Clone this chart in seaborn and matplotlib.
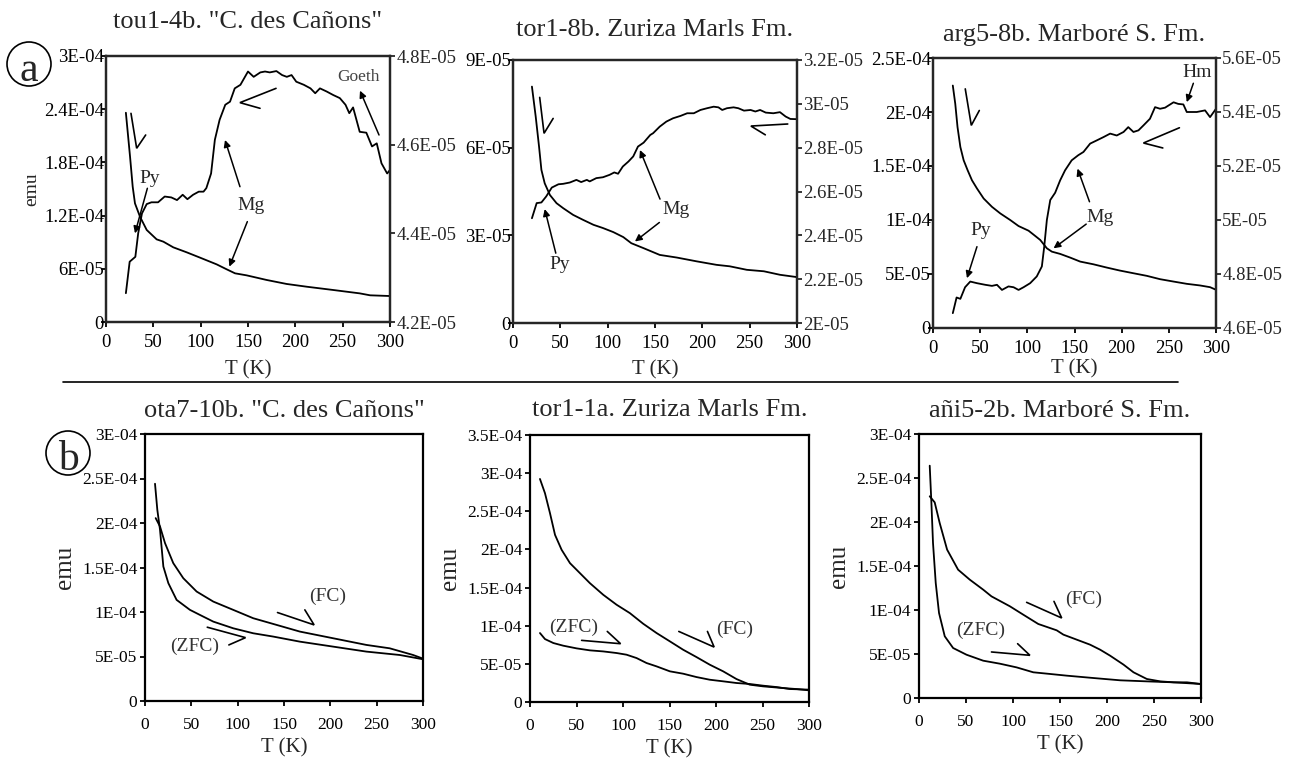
import numpy as np
import pandas as pd
import matplotlib
matplotlib.use("Agg")
import matplotlib.pyplot as plt
from matplotlib.ticker import FuncFormatter, MultipleLocator
from matplotlib.patches import Ellipse
from matplotlib.lines import Line2D
import seaborn as sns

# ---- data ----
# (a) row: decreasing curve on left axis (x1e-4 or x1e-5), rising curve on right axis (x1e-5)
a1_t_down = [21, 25.4, 28.2, 30.6, 35.9, 43, 53.5, 60.6, 71.1, 85.2, 99.3, 116.9, 127.5, 136.3,
             148.6, 169.7, 190.8, 212, 240, 268, 279, 300]
a1_down = [2.36, 1.865, 1.526, 1.338, 1.188, 1.038, 0.932, 0.906, 0.842, 0.786, 0.726, 0.650,
           0.594, 0.549, 0.526, 0.474, 0.429, 0.398, 0.361, 0.323, 0.301, 0.293]  # x1e-4
a1_t_up = [21, 25, 31, 34, 38, 43, 48, 55, 62, 69, 75, 81, 86, 92, 98, 103, 106, 111, 115, 120,
           126, 131, 136, 142, 150, 156, 163, 168, 173, 180, 186, 191, 196, 201, 209, 216, 221,
           226, 233, 240, 247, 253, 257, 261, 268, 275, 281, 286, 291, 297, 300]
a1_up = [4.265, 4.336, 4.347, 4.400, 4.445, 4.466, 4.470, 4.470, 4.483, 4.481, 4.475, 4.487,
         4.477, 4.487, 4.494, 4.494, 4.502, 4.535, 4.611, 4.656, 4.690, 4.697, 4.727, 4.735,
         4.765, 4.753, 4.763, 4.765, 4.763, 4.766, 4.757, 4.753, 4.757, 4.742, 4.735, 4.727,
         4.716, 4.727, 4.720, 4.712, 4.705, 4.690, 4.671, 4.684, 4.629, 4.627, 4.596, 4.603,
         4.558, 4.535, 4.543]  # x1e-5

a2_t_down = [20, 24, 27.5, 30, 33.5, 39, 46, 53, 63.5, 74, 85, 95, 106, 116.5, 125, 138, 155,
             173, 194, 215, 229, 247, 265, 282, 300]
a2_down = [8.09, 7.06, 6.04, 5.24, 4.78, 4.38, 4.10, 3.93, 3.70, 3.53, 3.36, 3.25, 3.11, 2.94,
           2.73, 2.56, 2.33, 2.24, 2.11, 1.99, 1.94, 1.82, 1.77, 1.65, 1.57]  # x1e-5
a2_t_up = [20, 25, 30, 35, 41, 48, 53, 60, 67, 72, 78, 81, 88, 95, 102, 107, 111, 116, 122, 127,
           132, 138, 145, 148, 155, 162, 169, 177, 184, 191, 198, 205, 212, 217, 221, 226, 233,
           238, 244, 251, 256, 261, 267, 275, 282, 288, 293, 300]
a2_up = [2.478, 2.547, 2.550, 2.577, 2.618, 2.633, 2.635, 2.641, 2.653, 2.643, 2.653, 2.646,
         2.661, 2.665, 2.676, 2.687, 2.681, 2.714, 2.737, 2.760, 2.805, 2.823, 2.858, 2.866,
         2.896, 2.919, 2.934, 2.945, 2.957, 2.957, 2.972, 2.980, 2.987, 2.984, 2.972, 2.980,
         2.984, 2.980, 2.969, 2.972, 2.965, 2.972, 2.960, 2.957, 2.962, 2.942, 2.931, 2.930]  # x1e-5

a3_t_down = [21, 23.6, 26, 29, 32.5, 36.7, 41.3, 46.6, 53.7, 62.5, 71.3, 82, 90.7, 101.3, 108.4,
             113.7, 120.7, 126, 134.8, 145.4, 156, 170, 184, 198, 212.5, 226.6, 240.7, 255, 269,
             283, 293.7, 300]
a3_down = [2.245, 2.076, 1.860, 1.676, 1.553, 1.461, 1.368, 1.292, 1.199, 1.122, 1.061, 0.999,
           0.944, 0.901, 0.852, 0.815, 0.738, 0.707, 0.686, 0.652, 0.615, 0.590, 0.560, 0.532,
           0.507, 0.483, 0.452, 0.430, 0.409, 0.394, 0.378, 0.354]  # x1e-4
a3_t_up = [21, 25, 29, 34, 39.5, 46.6, 55.4, 62.5, 67.8, 73.1, 80, 85.4, 90.7, 96, 103, 110,
           115.4, 117.9, 120.7, 124.3, 129.5, 134.8, 140, 147, 154, 159.5, 166.6, 173.7, 180.7,
           187.8, 194.8, 202, 207, 212.5, 217.8, 223, 230, 235.4, 240.7, 246, 255, 260, 265.4,
           269, 274.3, 279.6, 288.4, 293.7, 300]
a3_up = [4.655, 4.713, 4.708, 4.751, 4.772, 4.766, 4.760, 4.756, 4.760, 4.741, 4.754, 4.751,
         4.741, 4.751, 4.766, 4.791, 4.828, 4.901, 5.000, 5.074, 5.101, 5.147, 5.184, 5.221,
         5.240, 5.252, 5.283, 5.295, 5.307, 5.320, 5.313, 5.326, 5.344, 5.326, 5.332, 5.350,
         5.375, 5.418, 5.412, 5.416, 5.436, 5.430, 5.428, 5.400, 5.400, 5.400, 5.406, 5.381,
         5.412]  # x1e-5

# (b) row: ZFC / FC curves (x1e-4)
b1_t_zfc = [10.8, 13.3, 16.2, 19.8, 25.2, 34.1, 48.5, 59.3, 73.7, 95.2, 116.8, 138.3, 167.1,
            203, 238.9, 274.9, 300]
b1_zfc = [2.441, 2.148, 1.924, 1.511, 1.324, 1.136, 1.024, 0.967, 0.892, 0.817, 0.761, 0.724,
          0.667, 0.611, 0.555, 0.517, 0.469]
b1_t_fc = [11.5, 16.2, 21.6, 30.5, 41.3, 55.7, 73.7, 95.2, 116.8, 138.3, 167.1, 203, 238.9,
           264.1, 289.3, 300]
b1_fc = [2.055, 1.961, 1.774, 1.549, 1.380, 1.230, 1.117, 1.024, 0.930, 0.866, 0.780, 0.705,
         0.630, 0.592, 0.517, 0.476]

b2_t_fc = [10.7, 16.1, 21.5, 26.9, 34, 43, 53.7, 64.4, 78.8, 93.1, 107.4, 121.7, 136.1, 150.4,
           164.7, 179, 193.3, 207.7, 222, 236.3, 250.6, 272.1, 286.4, 300]
b2_fc = [2.924, 2.737, 2.475, 2.191, 1.995, 1.820, 1.689, 1.558, 1.405, 1.275, 1.165, 1.026,
         0.904, 0.795, 0.685, 0.589, 0.489, 0.402, 0.301, 0.227, 0.205, 0.183, 0.170, 0.153]
b2_t_zfc = [10.7, 16.1, 25.1, 35.8, 50.1, 64.4, 78.8, 93.1, 103.8, 114.6, 125.3, 136.1, 150.4,
            164.7, 179, 193.3, 207.7, 222, 236.3, 250.6, 265, 279.3, 300]
b2_zfc = [0.904, 0.825, 0.773, 0.738, 0.703, 0.677, 0.663, 0.642, 0.620, 0.576, 0.511, 0.467,
          0.402, 0.371, 0.327, 0.292, 0.271, 0.249, 0.236, 0.214, 0.196, 0.170, 0.162]

b3_t_zfc = [11.4, 13.2, 14.9, 17.8, 21.3, 27.4, 36.3, 50.5, 68.3, 86, 103.8, 121.6, 135.8,
            157.1, 185.6, 214, 242.4, 270.9, 300]
b3_zfc = [2.640, 2.216, 1.761, 1.307, 0.966, 0.701, 0.568, 0.492, 0.424, 0.390, 0.348, 0.292,
          0.277, 0.254, 0.227, 0.201, 0.189, 0.178, 0.159]
b3_t_fc = [11.4, 16.7, 22, 29.9, 41.6, 54, 68.3, 77.1, 96.7, 110.9, 126.9, 146.5, 153.6, 167.8,
           182, 192.7, 203.3, 217.6, 228.2, 242.4, 256.7, 270.9, 285.1, 300]
b3_fc = [2.292, 2.223, 1.989, 1.686, 1.458, 1.345, 1.231, 1.155, 1.042, 0.947, 0.841, 0.769,
         0.720, 0.663, 0.606, 0.549, 0.481, 0.379, 0.292, 0.216, 0.189, 0.178, 0.178, 0.159]

titles_a = ['tou1-4b. "C. des Cañons"', 'tor1-8b. Zuriza Marls Fm.', 'arg5-8b. Marboré S. Fm.']
titles_b = ['ota7-10b. "C. des Cañons"', 'tor1-1a. Zuriza Marls Fm.', 'añi5-2b. Marboré S. Fm.']

W, H = 1299, 759


def sci_label(v, pos=None):
    if abs(v) < 1e-12:
        return "0"
    s = f"{v:.1E}"
    mant, exp = s.split("E")
    if mant.endswith(".0"):
        mant = mant[:-2]
    return f"{mant}E{exp[0]}{exp[1:].zfill(2)}"


def rect(l, t, r, b):
    return [l / W, 1 - b / H, (r - l) / W, (b - t) / H]


def curve(ax, t, v, scale):
    df = pd.DataFrame({"T": t, "emu": np.array(v) * scale})
    sns.lineplot(data=df, x="T", y="emu", ax=ax, color="black", linewidth=1.3,
                 estimator=None, sort=False)


def style_axes(ax, ymax, ystep, ypad, xpad, lsize, xlabelpad):
    ax.set_xlim(0, 300)
    ax.set_ylim(0, ymax)
    ax.xaxis.set_major_locator(MultipleLocator(50))
    ax.yaxis.set_major_locator(MultipleLocator(ystep))
    ax.yaxis.set_major_formatter(FuncFormatter(sci_label))
    ax.tick_params(axis="both", direction="out", length=3.5, width=1.3, labelsize=lsize,
                   colors="black")
    ax.tick_params(axis="y", pad=ypad)
    ax.tick_params(axis="x", pad=xpad)
    for sp in ax.spines.values():
        sp.set_visible(True)
        sp.set_linewidth(1.6)
        sp.set_color("black")
    ax.set_xlabel("T (K)", fontsize=15, labelpad=xlabelpad)
    ax.set_ylabel("")


def arrow(ax, x0, y0, x1, y1):
    ax.annotate("", xy=(x1, y1), xytext=(x0, y0),
                arrowprops=dict(arrowstyle="-|>", color="black", lw=1.1,
                                mutation_scale=10, shrinkA=0, shrinkB=0))


def chevron(ax, xs, ys):
    ax.plot(xs, ys, color="black", lw=1.2, solid_joinstyle="miter")


sns.set_style("ticks")
plt.rcParams["font.family"] = ["Liberation Serif", "DejaVu Serif"]
plt.rcParams["axes.facecolor"] = "white"

fig = plt.figure(figsize=(W / 100, H / 100), dpi=100)

# ---------------- row (a) ----------------
a_specs = [
    dict(rect=rect(106, 56, 390, 322), t_down=a1_t_down, down=a1_down, ds=1e-4,
         t_up=a1_t_up, up=a1_up, ymax=3e-4, ystep=6e-5, r=(4.2e-5, 4.8e-5), pad=20, xlp=6.5),
    dict(rect=rect(513, 60, 797, 323), t_down=a2_t_down, down=a2_down, ds=1e-5,
         t_up=a2_t_up, up=a2_up, ymax=9e-5, ystep=3e-5, r=(2.0e-5, 3.2e-5), pad=17, xlp=6),
    dict(rect=rect(933, 58, 1216, 328), t_down=a3_t_down, down=a3_down, ds=1e-4,
         t_up=a3_t_up, up=a3_up, ymax=2.5e-4, ystep=5e-5, r=(4.6e-5, 5.6e-5), pad=12, xlp=1.5),
]
axes_a = []
for i, sp in enumerate(a_specs):
    ax = fig.add_axes(sp["rect"])
    curve(ax, sp["t_down"], sp["down"], sp["ds"])
    style_axes(ax, sp["ymax"], sp["ystep"], -2, 5, 13.5, sp["xlp"])
    ax.set_title(titles_a[i], fontsize=19, pad=sp["pad"])
    ax2 = ax.twinx()
    curve(ax2, sp["t_up"], sp["up"], 1e-5)
    ax2.set_ylim(*sp["r"])
    ax2.yaxis.set_major_locator(MultipleLocator(2e-6))
    ax2.yaxis.set_major_formatter(FuncFormatter(sci_label))
    ax2.tick_params(axis="y", direction="out", length=3.5, width=1.3, labelsize=13.5, pad=1)
    ax2.set_ylabel("")
    ax2.set_xlim(0, 300)
    for s in ax2.spines.values():
        s.set_linewidth(1.6)
    axes_a.append(ax)

axes_a[0].set_ylabel("emu", fontsize=14, labelpad=3)

# annotations (left-axis data units)
ax = axes_a[0]
chevron(ax, [26.4, 32.4, 41.9], [2.353e-4, 1.959e-4, 2.109e-4])
chevron(ax, [179.6, 141.5, 162.7], [2.635e-4, 2.474e-4, 2.41e-4])
ax.text(46.5, 1.62e-4, "Py", fontsize=14, ha="center", va="center")
arrow(ax, 43.7, 1.508e-4, 30.6, 1.0e-4)
ax.text(152.8, 1.31e-4, "Mg", fontsize=14, ha="center", va="center")
arrow(ax, 141.5, 1.526e-4, 125.7, 2.053e-4)
arrow(ax, 149.3, 1.132e-4, 130.3, 0.624e-4)
ax.text(266.5, 2.76e-4, "Goeth", fontsize=12.5, ha="center", va="center", color="#444444")
arrow(ax, 288.4, 2.109e-4, 268.3, 2.609e-4)

ax = axes_a[1]
chevron(ax, [28.2, 32.8, 42.4], [7.72e-5, 6.49e-5, 7.0e-5])
chevron(ax, [290.2, 251.3, 266.5], [6.81e-5, 6.74e-5, 6.44e-5])
ax.text(49.4, 1.99e-5, "Py", fontsize=14, ha="center", va="center")
arrow(ax, 45.2, 2.39e-5, 33.5, 3.90e-5)
ax.text(172.3, 3.87e-5, "Mg", fontsize=14, ha="center", va="center")
arrow(ax, 155.3, 4.24e-5, 134.1, 5.92e-5)
arrow(ax, 154.6, 3.44e-5, 128.8, 2.79e-5)

ax = axes_a[2]
chevron(ax, [34.2, 40.6, 49.1], [2.214e-4, 1.876e-4, 2.014e-4])
chevron(ax, [261.2, 223.1, 243.6], [1.854e-4, 1.713e-4, 1.667e-4])
ax.text(280.3, 2.368e-4, "Hm", fontsize=14, ha="center", va="center")
arrow(ax, 276.0, 2.266e-4, 269.0, 2.091e-4)
ax.text(50.1, 0.907e-4, "Py", fontsize=14, ha="center", va="center")
arrow(ax, 46.6, 0.753e-4, 36.0, 0.461e-4)
ax.text(177.2, 1.024e-4, "Mg", fontsize=14, ha="center", va="center")
arrow(ax, 165.9, 1.169e-4, 153.2, 1.476e-4)
arrow(ax, 162.4, 0.962e-4, 127.8, 0.738e-4)

# ---------------- row (b) ----------------
b_specs = [
    dict(rect=rect(145, 434, 423, 701), curves=[(b1_t_zfc, b1_zfc), (b1_t_fc, b1_fc)],
         ymax=3e-4, pad=12),
    dict(rect=rect(530, 435, 809, 702), curves=[(b2_t_fc, b2_fc), (b2_t_zfc, b2_zfc)],
         ymax=3.5e-4, pad=14),
    dict(rect=rect(919, 434, 1201, 698), curves=[(b3_t_zfc, b3_zfc), (b3_t_fc, b3_fc)],
         ymax=3e-4, pad=12),
]
axes_b = []
for i, sp in enumerate(b_specs):
    ax = fig.add_axes(sp["rect"])
    for t, v in sp["curves"]:
        curve(ax, t, v, 1e-4)
    style_axes(ax, sp["ymax"], 5e-5, 2, 8, 12.5, 4)
    ax.set_title(titles_b[i], fontsize=19, pad=sp["pad"])
    ax.set_ylabel("emu", fontsize=18, labelpad=4)
    axes_b.append(ax)

lab_col = "#333333"
ax = axes_b[0]
ax.text(196.9, 1.181e-4, "(FC)", fontsize=14, ha="center", va="center", color=lab_col)
chevron(ax, [143.0, 182.5, 172.5], [0.994e-4, 0.855e-4, 1.024e-4])
ax.text(53.9, 0.611e-4, "(ZFC)", fontsize=14, ha="center", va="center", color=lab_col)
chevron(ax, [67.2, 108.5, 90.5], [0.829e-4, 0.712e-4, 0.630e-4])

ax = axes_b[1]
ax.text(47.3, 0.982e-4, "(ZFC)", fontsize=14, ha="center", va="center", color=lab_col)
chevron(ax, [55.5, 97.4, 83.1], [0.808e-4, 0.764e-4, 0.925e-4])
ax.text(220.2, 0.947e-4, "(FC)", fontsize=14, ha="center", va="center", color=lab_col)
chevron(ax, [160.0, 198.0, 190.8], [0.925e-4, 0.720e-4, 0.925e-4])

ax = axes_b[2]
ax.text(174.9, 1.117e-4, "(FC)", fontsize=14, ha="center", va="center", color=lab_col)
chevron(ax, [114.5, 151.8, 143.6], [1.087e-4, 0.909e-4, 1.098e-4])
ax.text(65.4, 0.769e-4, "(ZFC)", fontsize=14, ha="center", va="center", color=lab_col)
chevron(ax, [77.1, 118.0, 104.9], [0.523e-4, 0.485e-4, 0.617e-4])

# ---- separator line and circled panel letters ----
fig.add_artist(Line2D([63 / W, 1178 / W], [1 - 382 / H, 1 - 382 / H], color="black", lw=1.2))
for letter, cx, cy in [("a", 29, 64), ("b", 68, 453)]:
    fig.add_artist(Ellipse((cx / W, 1 - cy / H), 44 / W, 44 / H, transform=fig.transFigure,
                           fc="white", ec="black", lw=1.2))
    fig.text(cx / W, 1 - (cy + 2) / H, letter, fontsize=30, ha="center", va="center_baseline")

fig.savefig("out.png", dpi=100)
